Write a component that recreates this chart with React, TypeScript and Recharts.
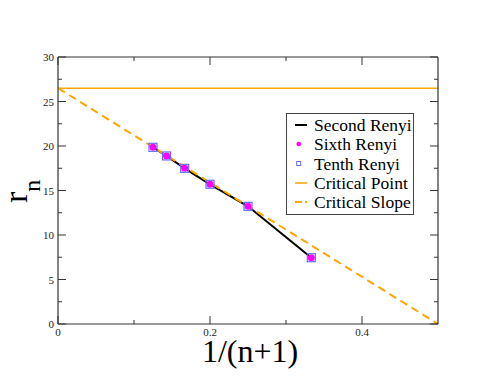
import React from 'react';
import { ComposedChart, Line, Scatter, XAxis, YAxis, Legend, Label } from 'recharts';

const secondRenyi = [
  { x: 0.125, y: 19.85 },
  { x: 0.142857, y: 18.88 },
  { x: 0.166667, y: 17.49 },
  { x: 0.2, y: 15.7 },
  { x: 0.25, y: 13.22 },
  { x: 0.333333, y: 7.45 },
];
const sixthRenyi = [
  { x: 0.125, y: 19.85 },
  { x: 0.142857, y: 18.88 },
  { x: 0.166667, y: 17.49 },
  { x: 0.2, y: 15.7 },
  { x: 0.25, y: 13.22 },
  { x: 0.333333, y: 7.45 },
];
const tenthRenyi = [
  { x: 0.125, y: 19.85 },
  { x: 0.142857, y: 18.88 },
  { x: 0.166667, y: 17.49 },
  { x: 0.2, y: 15.7 },
  { x: 0.25, y: 13.22 },
  { x: 0.333333, y: 7.45 },
];
const criticalPoint = [
  { x: 0, y: 26.5 },
  { x: 0.5, y: 26.5 },
];
const criticalSlope = [
  { x: 0, y: 26.5 },
  { x: 0.5, y: 0 },
];
const xTicks = [0, 0.1, 0.2, 0.3, 0.4];
const xMajor = [0, 0.2, 0.4];
const yTicks = [0, 2.5, 5, 7.5, 10, 12.5, 15, 17.5, 20, 22.5, 25, 27.5, 30];
const yMajor = [0, 5, 10, 15, 20, 25, 30];
const legendItems = ['Second Renyi', 'Sixth Renyi', 'Tenth Renyi', 'Critical Point', 'Critical Slope'];

const AXIS = '#333';
const ORANGE = '#FFA500';
const FONT = '"Liberation Serif", "Times New Roman", serif';

const isMajor = (v: number, list: number[]) => list.some((m) => Math.abs(m - v) < 1e-9);

const BottomTick = (p: any) => {
  const { x, y, payload } = p;
  const major = isMajor(payload.value, xMajor);
  return (
    <g>
      <line x1={x} y1={y} x2={x} y2={y - (major ? 8 : 4)} stroke={AXIS} strokeWidth={1} />
      {major && (
        <text x={x} y={y + 12} textAnchor="middle" fontSize={11} fontFamily={FONT} fill="#222">
          {String(payload.value)}
        </text>
      )}
    </g>
  );
};
const TopTick = (p: any) => {
  const { x, y, payload } = p;
  const major = isMajor(payload.value, xMajor);
  return <line x1={x} y1={y} x2={x} y2={y + (major ? 8 : 4)} stroke={AXIS} strokeWidth={1} />;
};
const LeftTick = (p: any) => {
  const { x, y, payload } = p;
  const major = isMajor(payload.value, yMajor);
  return (
    <g>
      <line x1={x} y1={y} x2={x + (major ? 8 : 4)} y2={y} stroke={AXIS} strokeWidth={1} />
      {major && (
        <text x={x - 4} y={y + 4} textAnchor="end" fontSize={11} fontFamily={FONT} fill="#222">
          {String(payload.value)}
        </text>
      )}
    </g>
  );
};
const RightTick = (p: any) => {
  const { x, y, payload } = p;
  const major = isMajor(payload.value, yMajor);
  return <line x1={x} y1={y} x2={x - (major ? 8 : 4)} y2={y} stroke={AXIS} strokeWidth={1} />;
};

const CircleShape = (p: any) => <circle cx={p.cx} cy={p.cy} r={3.5} fill="#FF00FF" />;
const SquareShape = (p: any) => (
  <rect x={p.cx - 4} y={p.cy - 4} width={8} height={8} fill="none" stroke="#6A6AFF" strokeWidth={1.2} />
);

const LegendBox = () => {
  const rowY = [12, 31, 50.5, 70, 89];
  return (
    <svg width={128} height={102} style={{ display: 'block' }}>
      <rect x={0.5} y={0.5} width={127} height={101} fill="#fff" stroke="#444" strokeWidth={1} />
      {legendItems.map((name, i) => {
        const cy = rowY[i];
        let icon: any = null;
        if (i === 0) icon = <line x1={9} x2={21} y1={cy} y2={cy} stroke="#000" strokeWidth={2} />;
        if (i === 1) icon = <circle cx={12.7} cy={cy} r={2.3} fill="#FF00FF" />;
        if (i === 2) icon = <rect x={10.7} y={cy - 2} width={4} height={4} fill="none" stroke="#6A6AFF" strokeWidth={1} />;
        if (i === 3) icon = <line x1={9} x2={21} y1={cy} y2={cy} stroke={ORANGE} strokeWidth={1.5} />;
        if (i === 4) icon = <line x1={9} x2={21} y1={cy} y2={cy} stroke={ORANGE} strokeWidth={2} strokeDasharray="7,3" />;
        return (
          <g key={name}>
            {icon}
            <text x={28} y={cy + 6} fontSize={17.5} fontFamily={FONT} fill="#000">
              {name}
            </text>
          </g>
        );
      })}
    </svg>
  );
};

const XLabel = (p: any) => {
  const vb = p.viewBox || {};
  return (
    <text x={vb.x + vb.width / 2 + 2} y={vb.y + 38} textAnchor="middle" fontSize={32} fontFamily={FONT} fill="#000">
      1/(n+1)
    </text>
  );
};
const YLabel = (p: any) => {
  return (
    <text transform="translate(27,203) rotate(-90)" fontSize={34} fontFamily={FONT} fill="#000">
      <tspan>r</tspan>
      <tspan fontSize={24} dy={13}>n</tspan>
    </text>
  );
};

export default function App() {
  return (
    <div style={{ position: 'absolute', left: 0, top: 0, background: '#fff' }}>
      <ComposedChart width={494} height={382} margin={{ top: 40, right: 40, bottom: 0, left: 18 }}>
        <XAxis
          xAxisId="bottom"
          dataKey="x"
          type="number"
          domain={[0, 0.5]}
          ticks={xTicks}
          interval={0}
          height={58}
          tickSize={0}
          tickMargin={0}
          tickLine={false}
          axisLine={{ stroke: AXIS, strokeWidth: 1.2 }}
          tick={<BottomTick />}
          allowDataOverflow
        >
          <Label content={<XLabel />} />
        </XAxis>
        <XAxis
          xAxisId="top"
          orientation="top"
          dataKey="x"
          type="number"
          domain={[0, 0.5]}
          ticks={xTicks}
          interval={0}
          height={17}
          tickSize={0}
          tickMargin={0}
          tickLine={false}
          axisLine={{ stroke: AXIS, strokeWidth: 1.2 }}
          tick={<TopTick />}
          allowDataOverflow
        />
        <YAxis
          yAxisId="left"
          type="number"
          domain={[0, 30]}
          ticks={yTicks}
          interval={0}
          width={40}
          tickSize={0}
          tickMargin={0}
          tickLine={false}
          axisLine={{ stroke: AXIS, strokeWidth: 1.2 }}
          tick={<LeftTick />}
          allowDataOverflow
        >
          <Label content={<YLabel />} />
        </YAxis>
        <YAxis
          yAxisId="right"
          orientation="right"
          type="number"
          domain={[0, 30]}
          ticks={yTicks}
          interval={0}
          width={16}
          tickSize={0}
          tickMargin={0}
          tickLine={false}
          axisLine={{ stroke: AXIS, strokeWidth: 1.2 }}
          tick={<RightTick />}
          allowDataOverflow
        />
        <Line
          xAxisId="bottom"
          yAxisId="left"
          data={criticalPoint}
          dataKey="y"
          name="Critical Point"
          stroke={ORANGE}
          strokeWidth={1.5}
          dot={false}
          activeDot={false}
          isAnimationActive={false}
        />
        <Line
          xAxisId="bottom"
          yAxisId="left"
          data={secondRenyi}
          dataKey="y"
          name="Second Renyi"
          stroke="#000"
          strokeWidth={2}
          dot={false}
          activeDot={false}
          isAnimationActive={false}
        />
        <Line
          xAxisId="bottom"
          yAxisId="left"
          data={criticalSlope}
          dataKey="y"
          name="Critical Slope"
          stroke={ORANGE}
          strokeWidth={2}
          strokeDasharray="8 5"
          dot={false}
          activeDot={false}
          isAnimationActive={false}
        />
        <Scatter
          xAxisId="bottom"
          yAxisId="left"
          data={sixthRenyi}
          dataKey="y"
          name="Sixth Renyi"
          shape={<CircleShape />}
          isAnimationActive={false}
        />
        <Scatter
          xAxisId="bottom"
          yAxisId="left"
          data={tenthRenyi}
          dataKey="y"
          name="Tenth Renyi"
          shape={<SquareShape />}
          isAnimationActive={false}
        />
        <Legend
          layout="horizontal"
          verticalAlign="middle"
          align="center"
          wrapperStyle={{ position: 'absolute', left: 286, top: 113, width: 128, height: 102 }}
          content={<LegendBox />}
        />
      </ComposedChart>
    </div>
  );
}
